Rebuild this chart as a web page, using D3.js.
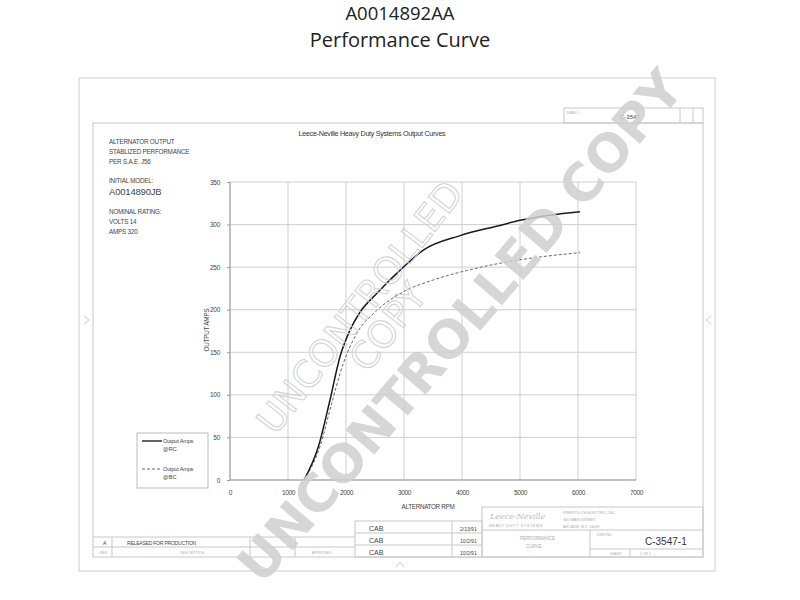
<!DOCTYPE html>
<html><head><meta charset="utf-8">
<script src="https://cdn.jsdelivr.net/npm/d3@7"></script>
<style>
body{margin:0;background:#fff;}
svg{display:block;}
</style></head>
<body><svg id="c" width="800" height="600"></svg>
<script>
// ---- data ----
const xTicks = [0,1000,2000,3000,4000,5000,6000,7000];
const yTicks = [0,50,100,150,200,250,300,350];
const rpmHot = [1276,1523,1724,1897,2069,2241,2529,2989,3333,3966,4655,5000,5517,6034];
const ampsHot = [0,39,94,145,176,197,219,250,270,287,299,305,311,315];
const rpmCold = [1276,1550,1753,1954,2184,2529,2989,3506,4080,4943,6034];
const ampsCold = [0,39,90,137,172,199,221,235,246,258,267];
const seriesNames = ["Output Amps","Output Amps"];
const seriesTags = ["@RC","@BC"];
const infoLines = ["ALTERNATOR OUTPUT","STABLIZED PERFORMANCE","PER S.A.E. J56"];

const svg = d3.select("#c");
const font = "'Open Sans', 'DejaVu Sans', sans-serif";
const small = "'Liberation Sans', Arial, sans-serif";

// titles
svg.append("text").attr("x",400).attr("y",20).attr("text-anchor","middle")
  .attr("font-family",font).attr("font-size",18.5).attr("fill","#222").text("A0014892AA");
svg.append("text").attr("x",400).attr("y",47).attr("text-anchor","middle")
  .attr("font-family",font).attr("font-size",20).attr("fill","#222").text("Performance Curve");

// outer frames
svg.append("rect").attr("x",79).attr("y",78).attr("width",636).attr("height",493)
  .attr("fill","none").attr("stroke","#d6d6d6").attr("stroke-width",1.2);
svg.append("rect").attr("x",93).attr("y",123).attr("width",610).attr("height",434)
  .attr("fill","none").attr("stroke","#c8c8c8").attr("stroke-width",1);
// edge markers
const mk = svg.append("g").attr("stroke","#ccc").attr("fill","none");
mk.append("path").attr("d","M84,316 L89,320 L84,324");
mk.append("path").attr("d","M711,316 L706,320 L711,324");
mk.append("path").attr("d","M396,567 L400,562 L404,567");

// header strip top right
const hd = svg.append("g").attr("stroke","#c8c8c8").attr("fill","none");
hd.append("rect").attr("x",564).attr("y",108).attr("width",139).attr("height",15);
hd.append("line").attr("x1",680).attr("x2",680).attr("y1",108).attr("y2",123);
hd.append("line").attr("x1",693).attr("x2",693).attr("y1",108).attr("y2",123);
svg.append("text").attr("x",567).attr("y",114).attr("font-family",small).attr("font-size",3.5).attr("fill","#999").text("DWG #");
svg.append("text").attr("x",620).attr("y",119).attr("font-family",small).attr("font-size",6).attr("fill","#444").text("C-3547");

// chart title
svg.append("text").attr("x",372).attr("y",136).attr("text-anchor","middle")
  .attr("font-family",small).attr("font-size",7.2).attr("letter-spacing",-0.3).attr("fill","#333")
  .text("Leece-Neville Heavy Duty Systems Output Curves");

// left info text
const info = svg.append("g").attr("font-family",small).attr("font-size",6.3).attr("fill","#444").attr("letter-spacing",-0.2);
infoLines.forEach((t,i)=>info.append("text").attr("x",109).attr("y",144+i*10).text(t));
info.append("text").attr("x",109).attr("y",183).text("INITIAL MODEL:");
info.append("text").attr("x",109).attr("y",195).attr("font-size",9.5).text("A0014890JB");
info.append("text").attr("x",109).attr("y",214).text("NOMINAL RATING:");
info.append("text").attr("x",109).attr("y",224).text("VOLTS 14");
info.append("text").attr("x",109).attr("y",234).text("AMPS 320");

// plot
const x = d3.scaleLinear().domain([0,7000]).range([230,636]);
const y = d3.scaleLinear().domain([0,350]).range([480,182]);
const g = svg.append("g");
g.selectAll(".vg").data(xTicks).join("line")
  .attr("x1",d=>x(d)).attr("x2",d=>x(d)).attr("y1",y(0)).attr("y2",y(350))
  .attr("stroke","#cfcfcf").attr("stroke-width",1);
g.selectAll(".hg").data(yTicks).join("line")
  .attr("x1",x(0)).attr("x2",x(7000)).attr("y1",d=>y(d)).attr("y2",d=>y(d))
  .attr("stroke","#cfcfcf").attr("stroke-width",1);
g.append("line").attr("x1",x(0)).attr("x2",x(0)).attr("y1",y(0)).attr("y2",y(350)).attr("stroke","#999");
g.append("line").attr("x1",x(0)).attr("x2",x(7000)).attr("y1",y(0)).attr("y2",y(0)).attr("stroke","#999");

const xa = svg.append("g").attr("transform",`translate(0,${y(0)+7})`)
  .call(d3.axisBottom(x).tickValues(xTicks).tickSize(0).tickFormat(d3.format("d")));
xa.select(".domain").remove();
xa.selectAll("text").attr("font-family",small).attr("font-size",6.5).attr("fill","#444").attr("letter-spacing",-0.3);
const ya = svg.append("g").attr("transform",`translate(${x(0)-4},0)`)
  .call(d3.axisLeft(y).tickValues(yTicks).tickSize(3).tickFormat(d3.format("d")));
ya.select(".domain").remove();
ya.selectAll("line").attr("transform","translate(4,0)").attr("stroke","#999");
ya.selectAll("text").attr("font-family",small).attr("font-size",6.5).attr("fill","#444").attr("letter-spacing",-0.3);

svg.append("text").attr("x",428).attr("y",509).attr("text-anchor","middle")
  .attr("font-family",small).attr("font-size",6.3).attr("letter-spacing",-0.3).attr("fill","#444").text("ALTERNATOR RPM");
svg.append("text").attr("transform","translate(209,330) rotate(-90)").attr("text-anchor","middle")
  .attr("font-family",small).attr("font-size",6.3).attr("letter-spacing",-0.2).attr("fill","#444").text("OUTPUT AMPS");

const line = d3.line().x(d=>x(d[0])).y(d=>y(d[1])).curve(d3.curveMonotoneX);
svg.append("path").datum(d3.zip(rpmCold,ampsCold)).attr("d",line)
  .attr("fill","none").attr("stroke","#666").attr("stroke-width",1).attr("stroke-dasharray","3,2");
svg.append("path").datum(d3.zip(rpmHot,ampsHot)).attr("d",line)
  .attr("fill","none").attr("stroke","#1a1a1a").attr("stroke-width",1.5);

// legend
const lg = svg.append("g");
lg.append("rect").attr("x",137).attr("y",433).attr("width",71).attr("height",55)
  .attr("fill","#fff").attr("stroke","#bbb");
lg.append("line").attr("x1",142).attr("x2",162).attr("y1",441).attr("y2",441).attr("stroke","#111").attr("stroke-width",1.3);
lg.append("line").attr("x1",142).attr("x2",162).attr("y1",469).attr("y2",469).attr("stroke","#666").attr("stroke-dasharray","3,2");
[0,1].forEach(i=>{
  lg.append("text").attr("x",163).attr("y",443+i*28).attr("font-family",small).attr("font-size",5.6).attr("letter-spacing",-0.2).attr("fill","#444").text(seriesNames[i]);
  lg.append("text").attr("x",163).attr("y",451+i*28).attr("font-family",small).attr("font-size",5.6).attr("fill","#444").text(seriesTags[i]);
});

// bottom title block
const tb = svg.append("g").attr("stroke","#c8c8c8").attr("fill","none");
tb.append("line").attr("x1",93).attr("x2",355).attr("y1",537).attr("y2",537);
tb.append("line").attr("x1",93).attr("x2",355).attr("y1",547).attr("y2",547);
[112,250,295].forEach(v=>tb.append("line").attr("x1",v).attr("x2",v).attr("y1",537).attr("y2",557));
tb.append("rect").attr("x",355).attr("y",521).attr("width",127).attr("height",36);
tb.append("line").attr("x1",355).attr("x2",482).attr("y1",533).attr("y2",533);
tb.append("line").attr("x1",355).attr("x2",482).attr("y1",545).attr("y2",545);
tb.append("line").attr("x1",452).attr("x2",452).attr("y1",521).attr("y2",557);
tb.append("rect").attr("x",482).attr("y",507).attr("width",221).attr("height",50);
tb.append("line").attr("x1",482).attr("x2",703).attr("y1",530).attr("y2",530);
tb.append("line").attr("x1",590).attr("x2",590).attr("y1",530).attr("y2",557);
tb.append("line").attr("x1",590).attr("x2",703).attr("y1",549).attr("y2",549);
tb.append("line").attr("x1",630).attr("x2",630).attr("y1",549).attr("y2",557);
const tt = svg.append("g").attr("font-family",small).attr("fill","#444");
tt.append("text").attr("x",103).attr("y",545).attr("font-size",5).text("A");
tt.append("text").attr("x",127).attr("y",545).attr("font-size",5).attr("letter-spacing",-0.2).text("RELEASED FOR PRODUCTION");
tt.append("text").attr("x",100).attr("y",554).attr("font-size",3.5).attr("fill","#aaa").text("REV");
tt.append("text").attr("x",180).attr("y",554).attr("font-size",3.5).attr("fill","#aaa").text("DESCRIPTION");
tt.append("text").attr("x",312).attr("y",554).attr("font-size",3.5).attr("fill","#aaa").text("APPROVED");
["CAB","CAB","CAB"].forEach((t,i)=>tt.append("text").attr("x",369).attr("y",531+i*12).attr("font-size",7).text(t));
["2/13/91","10/2/91","10/2/91"].forEach((t,i)=>tt.append("text").attr("x",460).attr("y",531+i*12).attr("font-size",5).text(t));
tt.append("text").attr("x",490).attr("y",519).attr("font-family","'DejaVu Serif',serif").attr("font-style","italic").attr("font-size",8).attr("fill","#bbb").text("Leece-Neville");
tt.append("text").attr("x",489).attr("y",527).attr("font-size",3.8).attr("fill","#aaa").attr("letter-spacing",0.6).text("HEAVY DUTY SYSTEMS");
tt.append("text").attr("x",563).attr("y",514).attr("font-size",3.8).attr("fill","#aaa").text("PRESTOLITE ELECTRIC, INC.");
tt.append("text").attr("x",563).attr("y",521).attr("font-size",3.8).attr("fill","#aaa").text("400 MAIN STREET");
tt.append("text").attr("x",563).attr("y",528).attr("font-size",3.8).attr("fill","#aaa").text("ARCADE, N.Y. 14009");
tt.append("text").attr("x",520).attr("y",540).attr("font-size",4.5).attr("fill","#aaa").text("PERFORMANCE");
tt.append("text").attr("x",526).attr("y",548).attr("font-size",4.5).attr("fill","#aaa").text("CURVE");
tt.append("text").attr("x",597).attr("y",536).attr("font-size",3.5).attr("fill","#aaa").text("DWG NO.");
tt.append("text").attr("x",645).attr("y",545).attr("font-size",10).attr("fill","#333").text("C-3547-1");
tt.append("text").attr("x",610).attr("y",555).attr("font-size",3.5).attr("fill","#aaa").text("SHEET");
tt.append("text").attr("x",640).attr("y",555).attr("font-size",3.5).attr("fill","#aaa").text("1 OF 1");

// watermarks
svg.append("text").attr("transform","translate(370,315) rotate(-52)").attr("text-anchor","middle")
  .attr("font-family","'DejaVu Sans', sans-serif").attr("font-size",37).attr("fill","none")
  .attr("stroke","#d2d2d2").attr("stroke-width",1).text("UNCONTROLLED");
svg.append("text").attr("transform","translate(398,335) rotate(-52)").attr("text-anchor","middle")
  .attr("font-family","'DejaVu Sans', sans-serif").attr("font-size",37).attr("fill","none")
  .attr("stroke","#d2d2d2").attr("stroke-width",1).text("COPY");
svg.append("text").attr("transform","translate(474,338) rotate(-49.5)").attr("text-anchor","middle")
  .attr("font-family","'DejaVu Sans', sans-serif").attr("font-weight","bold").attr("font-size",52)
  .attr("fill","#cfcfcf").attr("fill-opacity",0.85).text("UNCONTROLLED COPY");
</script></body></html>
